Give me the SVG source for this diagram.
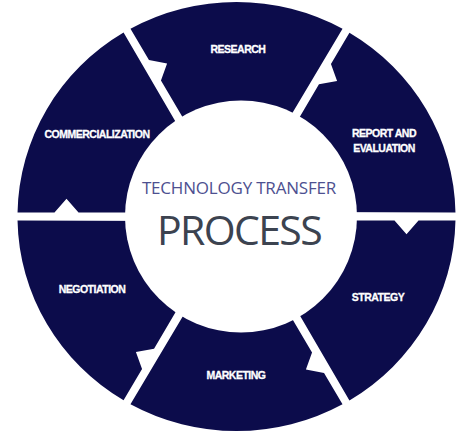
<svg xmlns="http://www.w3.org/2000/svg" width="474" height="437" viewBox="0 0 474 437">
  <style>
    .seg { fill: #0c0c4b; }
    .lbl { font-family: "Liberation Sans", Arial, sans-serif; font-weight: bold; font-size: 10.5px; fill: #ffffff; stroke: #ffffff; stroke-width: 0.3px; text-anchor: middle; letter-spacing: -0.5px; }
    .sub { font-family: "Open Sans", "Liberation Sans", sans-serif; font-size: 17px; fill: #4d5090; text-anchor: middle; letter-spacing: -0.2px; }
    .big { font-family: "Open Sans", "Liberation Sans", sans-serif; font-size: 41px; fill: #3c4350; text-anchor: middle; letter-spacing: -1.6px; }
  </style>
  <defs>
    <path id="seg" class="seg" d="M 8 4 L 158 4 L 170 18 L 182 4 L 218.96 4 A 219 219 0 0 1 112.94 187.64 Z"/>
  </defs>
  <rect width="474" height="437" fill="#ffffff"/>

  <g id="strategy">
    <use href="#seg" transform="translate(236.5 216.5) scale(1 0.98) rotate(0)"/>
    <text class="lbl" x="378" y="301">STRATEGY</text>
  </g>
  <g id="marketing">
    <use href="#seg" transform="translate(236.5 216.5) scale(1 0.98) rotate(60)"/>
    <text class="lbl" x="236" y="379">MARKETING</text>
  </g>
  <g id="negotiation">
    <use href="#seg" transform="translate(236.5 216.5) scale(1 0.98) rotate(120)"/>
    <text class="lbl" x="92" y="293">NEGOTIATION</text>
  </g>
  <g id="commercialization">
    <use href="#seg" transform="translate(236.5 216.5) scale(1 0.98) rotate(180)"/>
    <text class="lbl" x="97" y="138">COMMERCIALIZATION</text>
  </g>
  <g id="research">
    <use href="#seg" transform="translate(236.5 216.5) scale(1 0.98) rotate(240)"/>
    <text class="lbl" x="238" y="53">RESEARCH</text>
  </g>
  <g id="report-evaluation">
    <use href="#seg" transform="translate(236.5 216.5) scale(1 0.98) rotate(300)"/>
    <text class="lbl" x="384" y="137">REPORT AND</text>
    <text class="lbl" x="384" y="151.5">EVALUATION</text>
  </g>

  <g id="center">
    <circle cx="241" cy="216.5" r="116" fill="#ffffff"/>
    <text class="sub" x="239" y="194">TECHNOLOGY TRANSFER</text>
    <text class="big" x="239" y="245">PROCESS</text>
  </g>
</svg>
